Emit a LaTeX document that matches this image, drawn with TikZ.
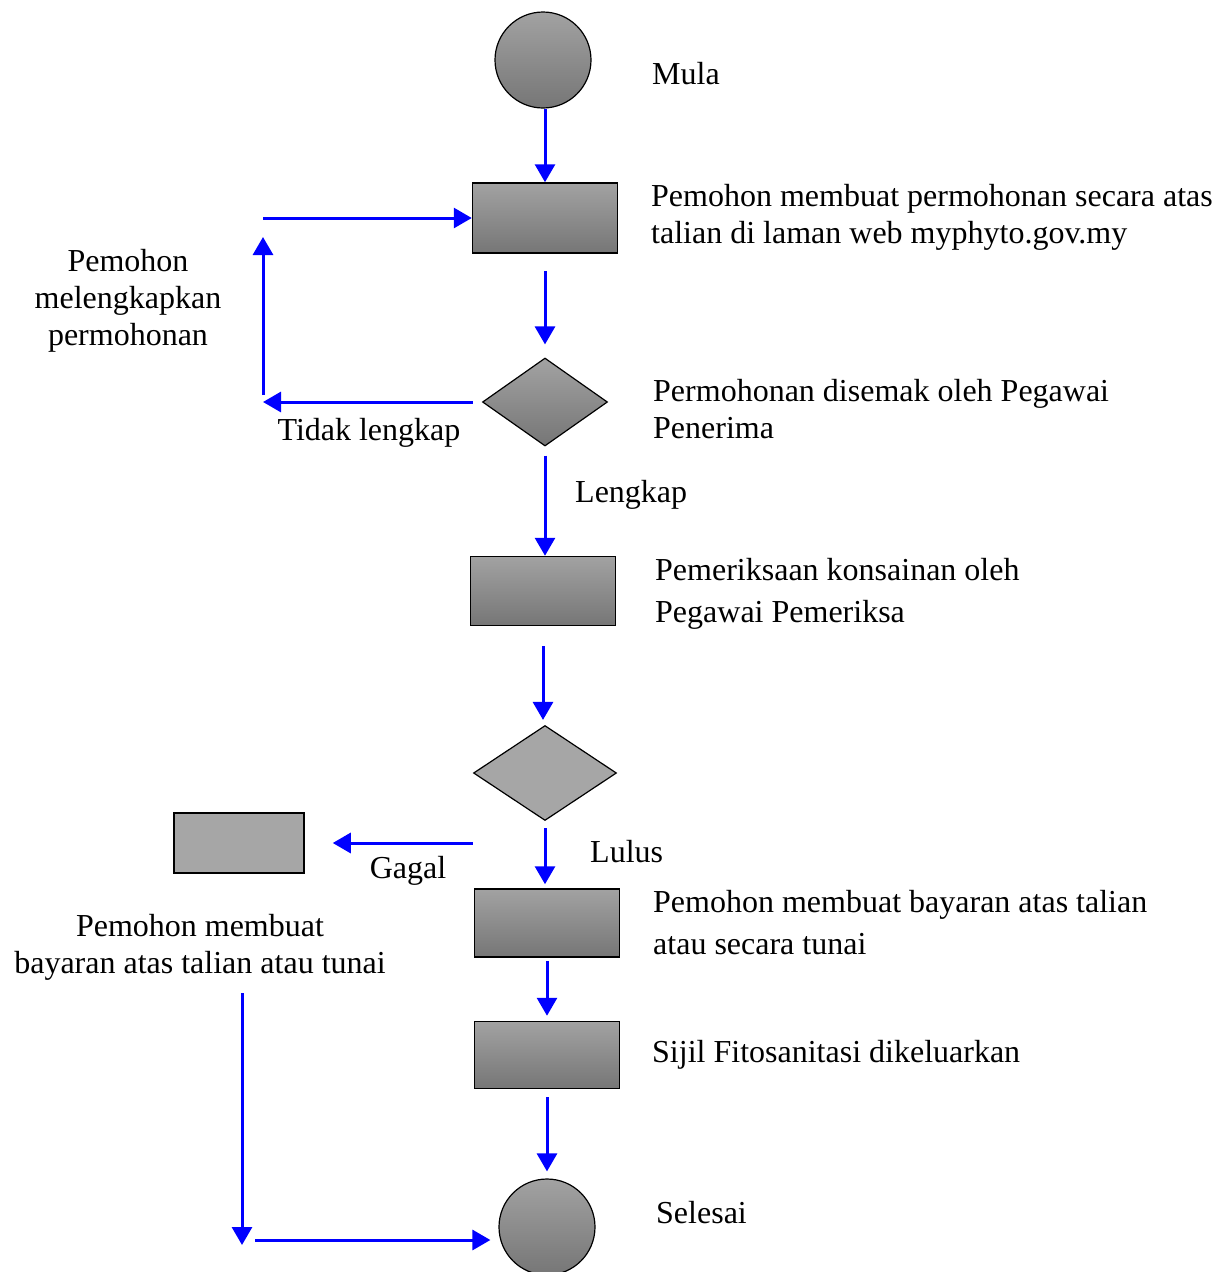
\documentclass[tikz,border=0pt]{standalone}
\usepackage{fontspec}
\setmainfont{Liberation Serif}
\usetikzlibrary{shapes.geometric, arrows.meta, positioning}
\definecolor{flowblue}{RGB}{0,0,255}
\definecolor{shadetop}{RGB}{162,162,162}
\definecolor{shadebot}{RGB}{118,118,118}
\definecolor{flatgray}{RGB}{166,166,166}
\tikzset{
x=1pt, y=-1pt, % one unit is one pixel of the layout
flow/.style={draw=flowblue, line width=3pt, -{Triangle[width=20pt,length=18pt]}}, % the blue connectors
shaded/.style={draw=black, top color=shadetop, bottom color=shadebot}, % grey gradient fill
flat/.style={draw=black, fill=flatgray}, % plain grey fill
task/.style={rectangle, minimum width=145pt, minimum height=70pt, inner sep=0pt, line width=1.5pt}, % process boxes
choice/.style={diamond, inner sep=0pt, line width=1.2pt}, % decision diamonds
terminal/.style={circle, minimum size=96pt, inner sep=0pt, line width=1.2pt}, % start and end
note/.style={anchor=west, align=left, inner sep=0pt, font=\fontsize{32}{37}\selectfont}, % texts beside the column
tag/.style={align=center, inner sep=0pt, font=\fontsize{32}{37}\selectfont}, % free labels
}

\begin{document}
\begin{tikzpicture}
\useasboundingbox (0,0) rectangle (1217,1272);

% main column
\node[terminal, shaded] at (543,60) (start) {};
\node[task, shaded] at (545,218) (apply) {};
\node[choice, shaded, minimum width=125pt, minimum height=88pt] at (545,402) (check1) {};
\node[task, shaded, minimum height=69pt] at (543,591) (inspect) {};
\node[choice, flat, minimum width=143pt, minimum height=95pt] at (545,773) (check2) {};
\node[task, shaded, minimum height=68pt] at (547,923) (pay) {};
\node[task, shaded, minimum height=67pt] at (547,1055) (issue) {};
\node[terminal, shaded] at (547,1227) (finish) {};

% side box
\node[task, flat, minimum width=130pt, minimum height=60pt] at (239,843) (retry) {};

% texts
\node[note] at (652,74) (startT) {Mula};
\node[note] at (651,217) (applyT) {Pemohon membuat permohonan secara atas\\talian di laman web myphyto.gov.my};
\node[note] at (653,409) (check1T) {Permohonan disemak oleh Pegawai\\Penerima};
\node[note] at (655,594) (inspectT) {Pemeriksaan konsainan oleh\\[5pt]Pegawai Pemeriksa};
\node[note] at (653,923) (payT) {Pemohon membuat bayaran atas talian\\[5pt]atau secara tunai};
\node[note] at (652,1055) (issueT) {Sijil Fitosanitasi dikeluarkan};
\node[note] at (656,1213) (finishT) {Selesai};
\node[tag] at (128,301) (backT) {Pemohon\\melengkapkan\\permohonan};
\node[tag] at (200,947) (retryT) {Pemohon membuat\\bayaran atas talian atau tunai};
\node[tag] at (369,433) (noT) {Tidak lengkap};
\node[note] at (575,495) (yesT) {Lengkap};
\node[tag] at (408,871) (failT) {Gagal};
\node[note] at (590,852) (passT) {Lulus};

% free ends of the loops
\coordinate (backA) at (263,402);
\coordinate (backB) at (263,237);
\coordinate (backC) at (263,218);
\coordinate (retryA) at (242,993);
\coordinate (retryB) at (242,1245);
\coordinate (retryC) at (255,1240);

% connectors
\draw[flow] (start.south -| apply.north) -- (apply.north);
\draw[flow, shorten <=17pt, shorten >=13pt] (apply.south) -- (check1.north);
\draw[flow, shorten <=9pt] (check1.south) -- (check1.south |- inspect.north);
\draw[flow, shorten <=20pt, shorten >=5pt] (inspect.south) -- (inspect.south |- check2.north);
\draw[flow, shorten <=7pt, shorten >=4pt] (check2.south) -- (check2.south |- pay.north);
\draw[flow, shorten <=3pt, shorten >=5pt] (pay.south) -- (issue.north);
\draw[flow, shorten <=8pt, shorten >=7pt] (issue.south) -- (finish.north);

\draw[flow, shorten <=9pt] (check1.west) -- (backA);
\draw[flow, shorten <=7pt] (backA) -- (backB);
\draw[flow] (backC) -- (apply.west);

\draw[flow, shorten >=28pt] (check2.west |- retry.east) -- (retry.east);
\draw[flow] (retryA) -- (retryB);
\draw[flow, shorten >=8pt] (retryC) -- (retryC -| finish.west);

\end{tikzpicture}
\end{document}
